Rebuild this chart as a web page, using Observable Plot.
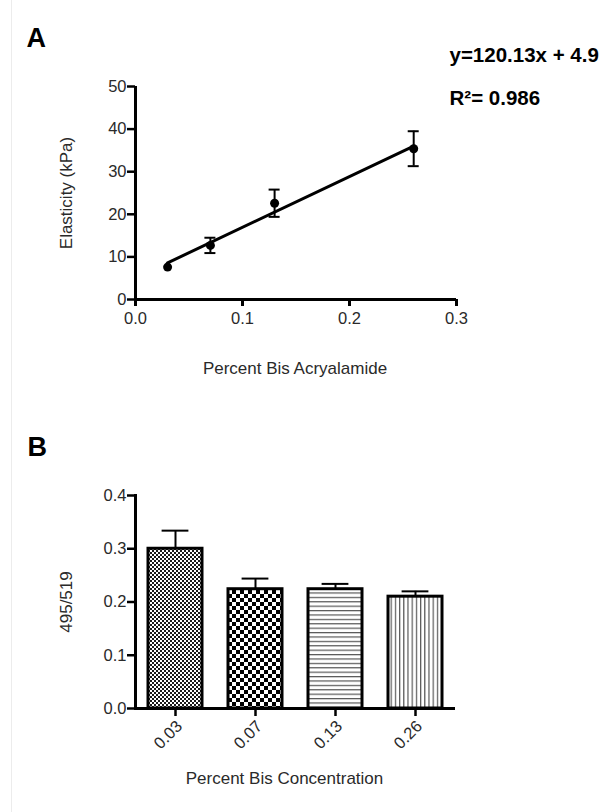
<!DOCTYPE html>
<html>
<head>
<meta charset="utf-8">
<script src="https://cdn.jsdelivr.net/npm/d3@7"></script>
<script src="https://cdn.jsdelivr.net/npm/@observablehq/plot@0.6"></script>
<style>
  body { margin: 0; background: #fff; }
  #wrap { position: relative; width: 613px; height: 812px; overflow: hidden; background: #fff; }
  #edge { position: absolute; left: 11px; top: 0; width: 1px; height: 812px; background: #ececec; }
  #a, #b { position: absolute; left: 0; }
  #a { top: 0; }
  #b { top: 390px; }
</style>
</head>
<body>
<div id="wrap">
  <div id="edge"></div>
  <div id="a"></div>
  <div id="b"></div>
</div>
<script>
// ---------- Panel A data ----------
const bisPercent = [0.03, 0.07, 0.13, 0.26];
const elasticity = [7.6, 12.7, 22.6, 35.4];
const elasticityErr = [0.3, 1.8, 3.2, 4.1];
const fitX = [0.03, 0.26];
const fitY = [8.6, 36.0];
const xTicksA = [0, 0.1, 0.2, 0.3];
const yTicksA = [0, 10, 20, 30, 40, 50];
const equationText = "y=120.13x + 4.9";
const r2Text = "R\u00B2= 0.986";

// ---------- Panel B data ----------
const bisCategories = ["0.03", "0.07", "0.13", "0.26"];
const ratio = [0.300, 0.224, 0.224, 0.210];
const ratioErr = [0.034, 0.020, 0.010, 0.010];
const yTicksB = [0, 0.1, 0.2, 0.3, 0.4];
const barFills = ["url(#patFine)", "url(#patCheck)", "url(#patHLine)", "url(#patVLine)"];

const FONT = "'Liberation Sans', Arial, Helvetica, sans-serif";
const TICK_FS = 16.5;
const TITLE_FS = 17;
const LABEL_COLOR = "#2a2a2a";

const dataA = bisPercent.map((x, i) => ({x, y: elasticity[i], err: elasticityErr[i], lo: elasticity[i] - elasticityErr[i], hi: elasticity[i] + elasticityErr[i]}));
// GraphPad hides error bars that are smaller than the symbol
const errA = dataA.filter(d => d.err > 1);
const fitData = fitX.map((x, i) => ({x, y: fitY[i]}));
const dataB = bisCategories.map((c, i) => ({cat: c, v: ratio[i], hi: ratio[i] + ratioErr[i], fill: barFills[i]}));

const fmt1 = d3.format(".1f");

const plotA = Plot.plot({
  width: 613, height: 390,
  marginLeft: 135, marginRight: 157, marginTop: 86, marginBottom: 91,
  style: {fontFamily: FONT, fontSize: "16px", color: "#000", background: "transparent", overflow: "visible"},
  x: {domain: [0, 0.3]},
  y: {domain: [0, 50]},
  marks: [
    Plot.axisX({ticks: xTicksA, tickFormat: fmt1, tickSize: 7, tickPadding: 6, strokeWidth: 3, stroke: "#000", fill: LABEL_COLOR, fontSize: TICK_FS, label: null}),
    Plot.axisY({ticks: yTicksA, tickSize: 8, tickPadding: 1, strokeWidth: 2.5, stroke: "#000", fill: LABEL_COLOR, fontSize: TICK_FS, label: null}),
    Plot.ruleX([0], {stroke: "#000", strokeWidth: 3}),
    Plot.ruleY([0], {stroke: "#000", strokeWidth: 3}),
    Plot.line(fitData, {x: "x", y: "y", stroke: "#000", strokeWidth: 3}),
    Plot.ruleX(errA, {x: "x", y1: "lo", y2: "hi", stroke: "#000", strokeWidth: 2}),
    Plot.ruleY(errA, {y: "hi", x1: "x", x2: "x", insetLeft: -5.5, insetRight: -5.5, stroke: "#000", strokeWidth: 2}),
    Plot.ruleY(errA, {y: "lo", x1: "x", x2: "x", insetLeft: -5.5, insetRight: -5.5, stroke: "#000", strokeWidth: 2}),
    Plot.dot(dataA, {x: "x", y: "y", r: 4.5, fill: "#000", stroke: null}),
    Plot.text(["Elasticity (kPa)"], {text: d => d, frameAnchor: "left", rotate: -90, dx: -69, textAnchor: "middle", lineAnchor: "middle", fill: LABEL_COLOR, fontSize: TITLE_FS}),
    Plot.text(["Percent Bis Acryalamide"], {text: d => d, frameAnchor: "bottom", dy: 69, dx: -1, textAnchor: "middle", lineAnchor: "middle", fill: LABEL_COLOR, fontSize: TITLE_FS}),
    Plot.text(["A"], {text: d => d, frameAnchor: "top-left", dx: -109, dy: -48.5, textAnchor: "start", lineAnchor: "middle", fill: "#000", fontSize: 27, fontWeight: "bold"}),
    Plot.text([equationText], {text: d => d, frameAnchor: "top-left", dx: 314, dy: -31, textAnchor: "start", lineAnchor: "middle", fill: "#000", fontSize: 20.5, fontWeight: "bold"}),
    Plot.text([r2Text], {text: d => d, frameAnchor: "top-left", dx: 314, dy: 12, textAnchor: "start", lineAnchor: "middle", fill: "#000", fontSize: 20.5, fontWeight: "bold"})
  ]
});
document.getElementById("a").appendChild(plotA);

const patternDefs = () => {
  const g = d3.create("svg:g");
  g.html(`
    <defs>
      <pattern id="patFine" patternUnits="userSpaceOnUse" width="4" height="4">
        <rect width="4" height="4" fill="#fff"/>
        <rect x="0" y="0" width="2" height="2" fill="#1a1a1a"/>
        <rect x="2" y="2" width="2" height="2" fill="#1a1a1a"/>
      </pattern>
      <pattern id="patCheck" patternUnits="userSpaceOnUse" width="8" height="8">
        <rect width="8" height="8" fill="#fff"/>
        <rect x="0" y="0" width="4" height="4" fill="#000"/>
        <rect x="4" y="4" width="4" height="4" fill="#000"/>
      </pattern>
      <pattern id="patHLine" patternUnits="userSpaceOnUse" width="8" height="4.4">
        <rect width="8" height="4.4" fill="#fff"/>
        <rect x="0" y="0" width="8" height="1.2" fill="#555"/>
      </pattern>
      <pattern id="patVLine" patternUnits="userSpaceOnUse" width="4.2" height="8">
        <rect width="4.2" height="8" fill="#fff"/>
        <rect x="0" y="0" width="1.2" height="8" fill="#555"/>
      </pattern>
    </defs>`);
  return g.node();
};

const plotB = Plot.plot({
  width: 613, height: 422,
  marginLeft: 135, marginRight: 158, marginTop: 105, marginBottom: 104,
  style: {fontFamily: FONT, fontSize: "16px", color: "#000", background: "transparent", overflow: "visible"},
  x: {domain: bisCategories, type: "band", paddingInner: 0.32, paddingOuter: 0.16},
  y: {domain: [0, 0.4]},
  color: {type: "identity"},
  marks: [
    patternDefs,
    Plot.barY(dataB, {x: "cat", y: "v", fill: "fill", stroke: "#000", strokeWidth: 3}),
    Plot.ruleX(dataB, {x: "cat", y1: "v", y2: "hi", stroke: "#000", strokeWidth: 2}),
    Plot.tickY(dataB, {x: "cat", y: "hi", insetLeft: 13.6, insetRight: 13.6, stroke: "#000", strokeWidth: 2}),
    Plot.axisX({tickSize: 8, strokeWidth: 2.5, stroke: "#000", text: null, label: null}),
    Plot.text(dataB, {x: "cat", text: "cat", frameAnchor: "bottom", dy: 15, dx: 4, rotate: -45, textAnchor: "end", lineAnchor: "middle", fill: LABEL_COLOR, fontSize: TICK_FS}),
    Plot.axisY({ticks: yTicksB, tickFormat: fmt1, tickSize: 8, tickPadding: 1, strokeWidth: 2.5, stroke: "#000", fill: LABEL_COLOR, fontSize: TICK_FS, label: null}),
    Plot.frame({anchor: "left", stroke: "#000", strokeWidth: 3}),
    Plot.ruleY([0], {stroke: "#000", strokeWidth: 3}),
    Plot.text(["495/519"], {text: d => d, frameAnchor: "left", rotate: -90, dx: -69, textAnchor: "middle", lineAnchor: "middle", fill: LABEL_COLOR, fontSize: TITLE_FS}),
    Plot.text(["Percent Bis Concentration"], {text: d => d, frameAnchor: "bottom", dy: 70, dx: -11, textAnchor: "middle", lineAnchor: "middle", fill: LABEL_COLOR, fontSize: TITLE_FS}),
    Plot.text(["B"], {text: d => d, frameAnchor: "top-left", dx: -108, dy: -48, textAnchor: "start", lineAnchor: "middle", fill: "#000", fontSize: 27, fontWeight: "bold"})
  ]
});
document.getElementById("b").appendChild(plotB);
</script>
</body>
</html>
